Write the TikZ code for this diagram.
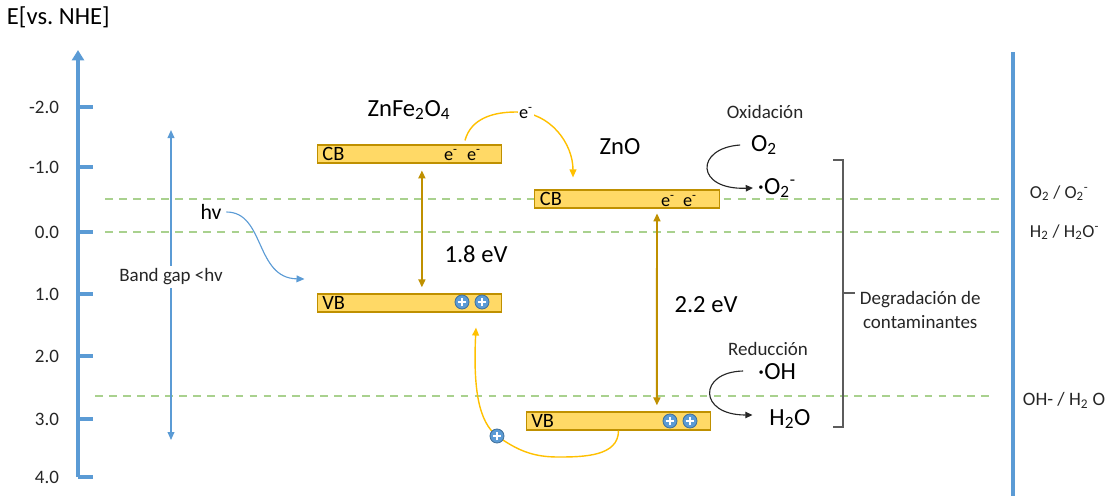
\documentclass[tikz,border=0pt]{standalone}
\usepackage{fontspec}
\setmainfont{Carlito}
\usepackage{xcolor}
\usepackage{tikz}
\usetikzlibrary{arrows.meta,positioning,calc}
\definecolor{cblue}{HTML}{5B9BD5}
\definecolor{cbluedk}{HTML}{41719C}
\definecolor{cgold}{HTML}{FFD966}
\definecolor{cgolddk}{HTML}{BF9000}
\definecolor{camber}{HTML}{FFC000}
\definecolor{cgreen}{HTML}{A9D18E}
\definecolor{cink}{HTML}{262626}
\tikzset{
  >={Triangle[length=2.0mm,width=1.7mm]},
  axis/.style={cblue,line width=2.8pt},
  band/.style={draw=cgolddk,fill=cgold,line width=0.8pt,
               minimum width=4.62cm,minimum height=0.45cm,inner sep=0pt},
  bandlbl/.style={font=\fontsize{14.5}{14.5}\selectfont,text=black,anchor=west,inner sep=4pt},
  elec/.style={font=\fontsize{13}{13}\selectfont,text=black,inner sep=0pt},
  hole/.style={circle,fill=cblue,draw=cbluedk,line width=0.6pt,minimum size=0.35cm,inner sep=0pt,
               path picture={\draw[white,line width=1.2pt]
                 ([xshift=-0.11cm]path picture bounding box.center) -- ([xshift=0.11cm]path picture bounding box.center)
                 ([yshift=-0.11cm]path picture bounding box.center) -- ([yshift=0.11cm]path picture bounding box.center);}},
  level/.style={cgreen,line width=1.4pt,dash pattern=on 5.5pt off 4.5pt},
  gaparrow/.style={<->,cgolddk,line width=1.4pt},
  transfer/.style={->,camber,line width=1pt},
  react/.style={-{Triangle[length=1.8mm,width=1.6mm]},cink,line width=0.8pt},
  tick/.style={font=\fontsize{13.5}{13.5}\selectfont,text=cink,anchor=east},
  ttl/.style={font=\fontsize{17.5}{17.5}\selectfont,text=black},
  lbl/.style={font=\fontsize{13.5}{13.5}\selectfont,text=cink},
}

\begin{document}
\begin{tikzpicture}[x=0.025cm,y=-0.025cm]
\useasboundingbox (0,0) rectangle (1107,496);

% ================= AXIS =================
\node[ttl,anchor=west,font=\fontsize{17.5}{17.5}\selectfont] (elabel) at (2,17) {E[vs.\ NHE]};
\draw[axis,-{Triangle[length=2.6mm,width=3.0mm]}] (78,477) -- (78,50);
\foreach \v/\y in {-2.0/107,-1.0/167,0.0/232,1.0/294,2.0/356,3.0/419,4.0/477}{
  \draw[axis] (78,\y) -- (93,\y);
  \node[tick] (t\y) at (64,\y) {\v};
}
\draw[cblue,line width=2.2pt] (1013,52) -- (1013,496);

% redox levels
\draw[level] (105,199) -- (1000,199);
\draw[level] (105,232) -- (1000,232);
\draw[level] (95,396) -- (990,396);
\node[lbl,anchor=west,font=\fontsize{13}{13}\selectfont] (lo2) at (1025,193) {O\textsubscript{2} / O\textsubscript{2}\textsuperscript{-}};
\node[lbl,anchor=west,font=\fontsize{13}{13}\selectfont] (lh2) at (1025,232) {H\textsubscript{2} / H\textsubscript{2}O\textsuperscript{-}};
\node[lbl,anchor=west] (loh) at (1018,400) {OH- / H\textsubscript{2} O};

% band gap < hv
\draw[<->,cblue,line width=1pt] (171,130) -- (171,440)
   node[lbl,fill=white,pos=0.474,inner sep=2pt] (bgap) {Band gap <hv};

% ================= ZnFe2O4 =================
\node[ttl] (zfo) at (409,110) {ZnFe\textsubscript{2}O\textsubscript{4}};
\node[band] (cbA) at (409.5,154) {};
\node[band] (vbA) at (409.5,303) {};
\node[bandlbl] (cbAl) at (cbA.west) {CB};
\node[bandlbl] (vbAl) at (vbA.west) {VB};
\node[elec] (eA1) at (451,155) {e\textsuperscript{-}};
\node[elec] (eA2) at (474,155) {e\textsuperscript{-}};
\node[hole] (hA1) at (462,302) {};
\node[hole] (hA2) at (482,302) {};
\draw[gaparrow,shorten <=0.17cm,shorten >=0.15cm] ([xshift=0.31cm]cbA.south) -- ([xshift=0.31cm]vbA.north);
\node[ttl] (gA) at (476,254) {1.8 eV};

% ================= ZnO =================
\node[ttl] (zno) at (620,147) {ZnO};
\node[band] (cbB) at (627,199) {};
\node[band] (vbB) at (618.5,421) {};
\node[bandlbl] (cbBl) at (cbB.west) {CB};
\node[bandlbl] (vbBl) at (vbB.west) {VB};
\node[elec] (eB1) at (668,201) {e\textsuperscript{-}};
\node[elec] (eB2) at (690,201) {e\textsuperscript{-}};
\node[hole] (hB1) at (670,421) {};
\node[hole] (hB2) at (690,421) {};
\draw[gaparrow,shorten <=0.12cm,shorten >=0.15cm] ([xshift=0.75cm]cbB.south) -- ([xshift=0.96cm]vbB.north);
\node[ttl] (gB) at (706,305) {2.2 eV};

% ================= CHARGE TRANSFER =================
\draw[transfer] ($(cbA.north)+(55.5,-4)$) to[out=75,in=180] (516,112) to[out=0,in=90] ($(cbB.north)+(-54,-12)$);
\node[elec,fill=white,inner sep=1pt] (et) at (526,113) {e\textsuperscript{-}};
\draw[transfer] (vbB.south) to[out=-90,in=0] (558,457) to[out=180,in=-35] (497,436)
   .. controls (479,422) and (473,390) .. ($(vbA.south)+(66.5,15)$);
\node[hole] (hmove) at (497,436) {};

% light
\node[ttl,font=\fontsize{15.5}{15.5}\selectfont] (hv) at (211,212) {hv};
\draw[->,cblue,line width=0.8pt] (hv.east) .. controls (265,212) and (255,278) .. ($(vbA.west)+(-12,-24)$);

% ================= REACTIONS =================
\node[lbl] (ox) at (765,112) {Oxidación};
\node[ttl] (o2) at (764,145) {O\textsubscript{2}};
\node[ttl,anchor=west] (o2r) at (753,188) {·O\textsubscript{2}\textsuperscript{-}};
\draw[react] ($(o2.west)+(-6,0)$) .. controls (695,148) and (695,190) .. (o2r.west);
\node[lbl] (red) at (768,349) {Reducción};
\node[ttl] (oh) at (777,372) {·OH};
\node[ttl] (h2o) at (790,419) {H\textsubscript{2}O};
\draw[react] ($(oh.west)+(-10,-1)$) .. controls (698,372) and (698,415) .. ($(h2o.west)+(-12,-4)$);

% bracket
\draw[cink!75,line width=0.9pt] (833,160) -| (843,293) -- (855,293);
\draw[cink!75,line width=0.9pt] (843,293) |- (833,427);
\node[lbl,align=center,anchor=west,font=\fontsize{13.5}{17}\selectfont] (deg) at (855,310) {Degradación de\\contaminantes};

\end{tikzpicture}
\end{document}
